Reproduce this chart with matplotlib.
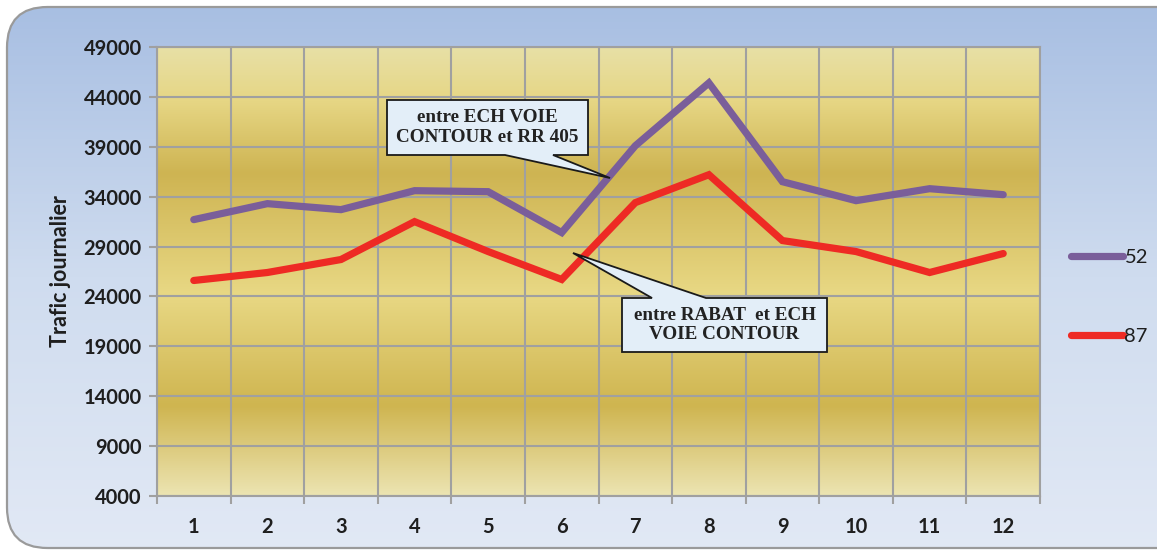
import numpy as np
import matplotlib
matplotlib.use('Agg')
import matplotlib.pyplot as plt
from matplotlib.patches import FancyBboxPatch, Polygon
from matplotlib.colors import LinearSegmentedColormap

plt.rcParams['font.family'] = ['Lato', 'DejaVu Sans']

months = [1, 2, 3, 4, 5, 6, 7, 8, 9, 10, 11, 12]
serie_52 = [31700, 33300, 32700, 34600, 34500, 30400, 39100, 45400, 35500, 33600, 34800, 34200]
serie_87 = [25600, 26400, 27700, 31500, 28500, 25700, 33400, 36200, 29600, 28500, 26400, 28300]
series_labels = ['52', '87']
yticks = list(range(4000, 49001, 5000))
callout_1 = 'entre ECH VOIE\nCONTOUR et RR 405'
callout_2 = 'entre RABAT  et ECH\nVOIE CONTOUR'

W, H = 1157, 554
fig = plt.figure(figsize=(W / 100, H / 100), dpi=100)
fig.patch.set_facecolor('white')

# outer rounded background with blue gradient
bg = fig.add_axes([0, 0, 1, 1], zorder=-5)
bg.set_xlim(0, 1)
bg.set_ylim(0, 1)
bg.axis('off')
blue = LinearSegmentedColormap.from_list('bl', ['#e2e9f5', '#cfdcef', '#a7bee2'])
grad = np.linspace(0, 1, 256).reshape(-1, 1)
im = bg.imshow(grad, cmap=blue, aspect='auto', extent=[0, 1, 0, 1], origin='lower')
frame = FancyBboxPatch((7 / W, 6 / H), 1.2, 1 - 13 / H,
                       boxstyle='round,pad=0,rounding_size=0.035',
                       mutation_aspect=W / H,
                       transform=bg.transAxes, facecolor='none',
                       edgecolor='#9a9a9a', linewidth=1.6)
bg.add_patch(frame)
im.set_clip_path(frame)

# plot area
x0, x1, y0, y1 = 157, 1040, 47, 496
ax = fig.add_axes([x0 / W, 1 - y1 / H, (x1 - x0) / W, (y1 - y0) / H])
ax.set_xlim(0.5, 12.5)
ax.set_ylim(4000, 49000)

gold = LinearSegmentedColormap.from_list('gold', [
    (0.0, '#ece4b2'), (0.2, '#cfb550'), (0.45, '#e8d884'),
    (0.72, '#ceb452'), (0.88, '#e6d684'), (1.0, '#e8e0a6')])
ax.imshow(grad, cmap=gold, aspect='auto', extent=[0.5, 12.5, 4000, 49000],
          origin='lower', zorder=0)

grid_c = '#a0a0a0'
ax.set_yticks(yticks)
ax.set_xticks(months)
ax.set_xticks(np.arange(0.5, 12.6, 1), minor=True)
ax.grid(True, which='major', axis='y', color=grid_c, linewidth=1.5, zorder=1)
ax.grid(True, which='minor', axis='x', color=grid_c, linewidth=1.5, zorder=1)
ax.tick_params(axis='x', which='major', length=0, pad=15, labelsize=14.5)
ax.tick_params(axis='x', which='minor', length=6, color=grid_c, width=1.5)
ax.tick_params(axis='y', length=6, color=grid_c, width=1.5, labelsize=14.5, pad=5)
for lab in ax.get_xticklabels() + ax.get_yticklabels():
    lab.set_fontweight('bold')
    lab.set_color('#1e1e1e')
for s in ax.spines.values():
    s.set_color(grid_c)
    s.set_linewidth(1.5)
ax.set_ylabel('Trafic journalier', fontsize=15.5, fontweight='bold', color='#1e1e1e', labelpad=9)

ax.plot(months, serie_52, color='#7a5e9a', linewidth=5.2, solid_capstyle='round',
        solid_joinstyle='miter', label=series_labels[0], zorder=3)
ax.plot(months, serie_87, color='#ee2a24', linewidth=5.2, solid_capstyle='round',
        solid_joinstyle='miter', label=series_labels[1], zorder=3)


def px(xp, yp):
    return (0.5 + (xp - x0) / ((x1 - x0) / 12), 49000 - (yp - y0) * 45000 / (y1 - y0))


def callout(box, base, tip, text):
    l, t, r, b = box
    if base[0][1] == b:
        pts = [(l, t), (r, t), (r, b), base[1], tip, base[0], (l, b)]
    else:
        pts = [(l, t), base[0], tip, base[1], (r, t), (r, b), (l, b)]
    poly = Polygon([px(*p) for p in pts], closed=True, facecolor='#e3eef8',
                   edgecolor='#1a1a1a', linewidth=1.3, zorder=5)
    ax.add_patch(poly)
    cx, cy = px((l + r) / 2, (t + b) / 2)
    ax.text(cx, cy, text, ha='center', va='center', family='Liberation Serif',
            fontweight='bold', fontsize=13.8, color='#222222', zorder=6, linespacing=1.2)


callout((387, 100, 588, 155), [(505, 155), (553, 155)], (610, 178), callout_1)
callout((622, 298, 827, 352), [(652, 298), (706, 298)], (573, 253), callout_2)

leg = fig.legend(loc='center left', bbox_to_anchor=(1053 / W, 1 - 297 / H),
                 frameon=False, fontsize=14.5, handlelength=2.6, handletextpad=0.05,
                 labelspacing=3.1)
for line in leg.get_lines():
    line.set_solid_capstyle('round')
for t in leg.get_texts():
    t.set_color('#1e1e1e')

fig.savefig('out.png', dpi=100)
